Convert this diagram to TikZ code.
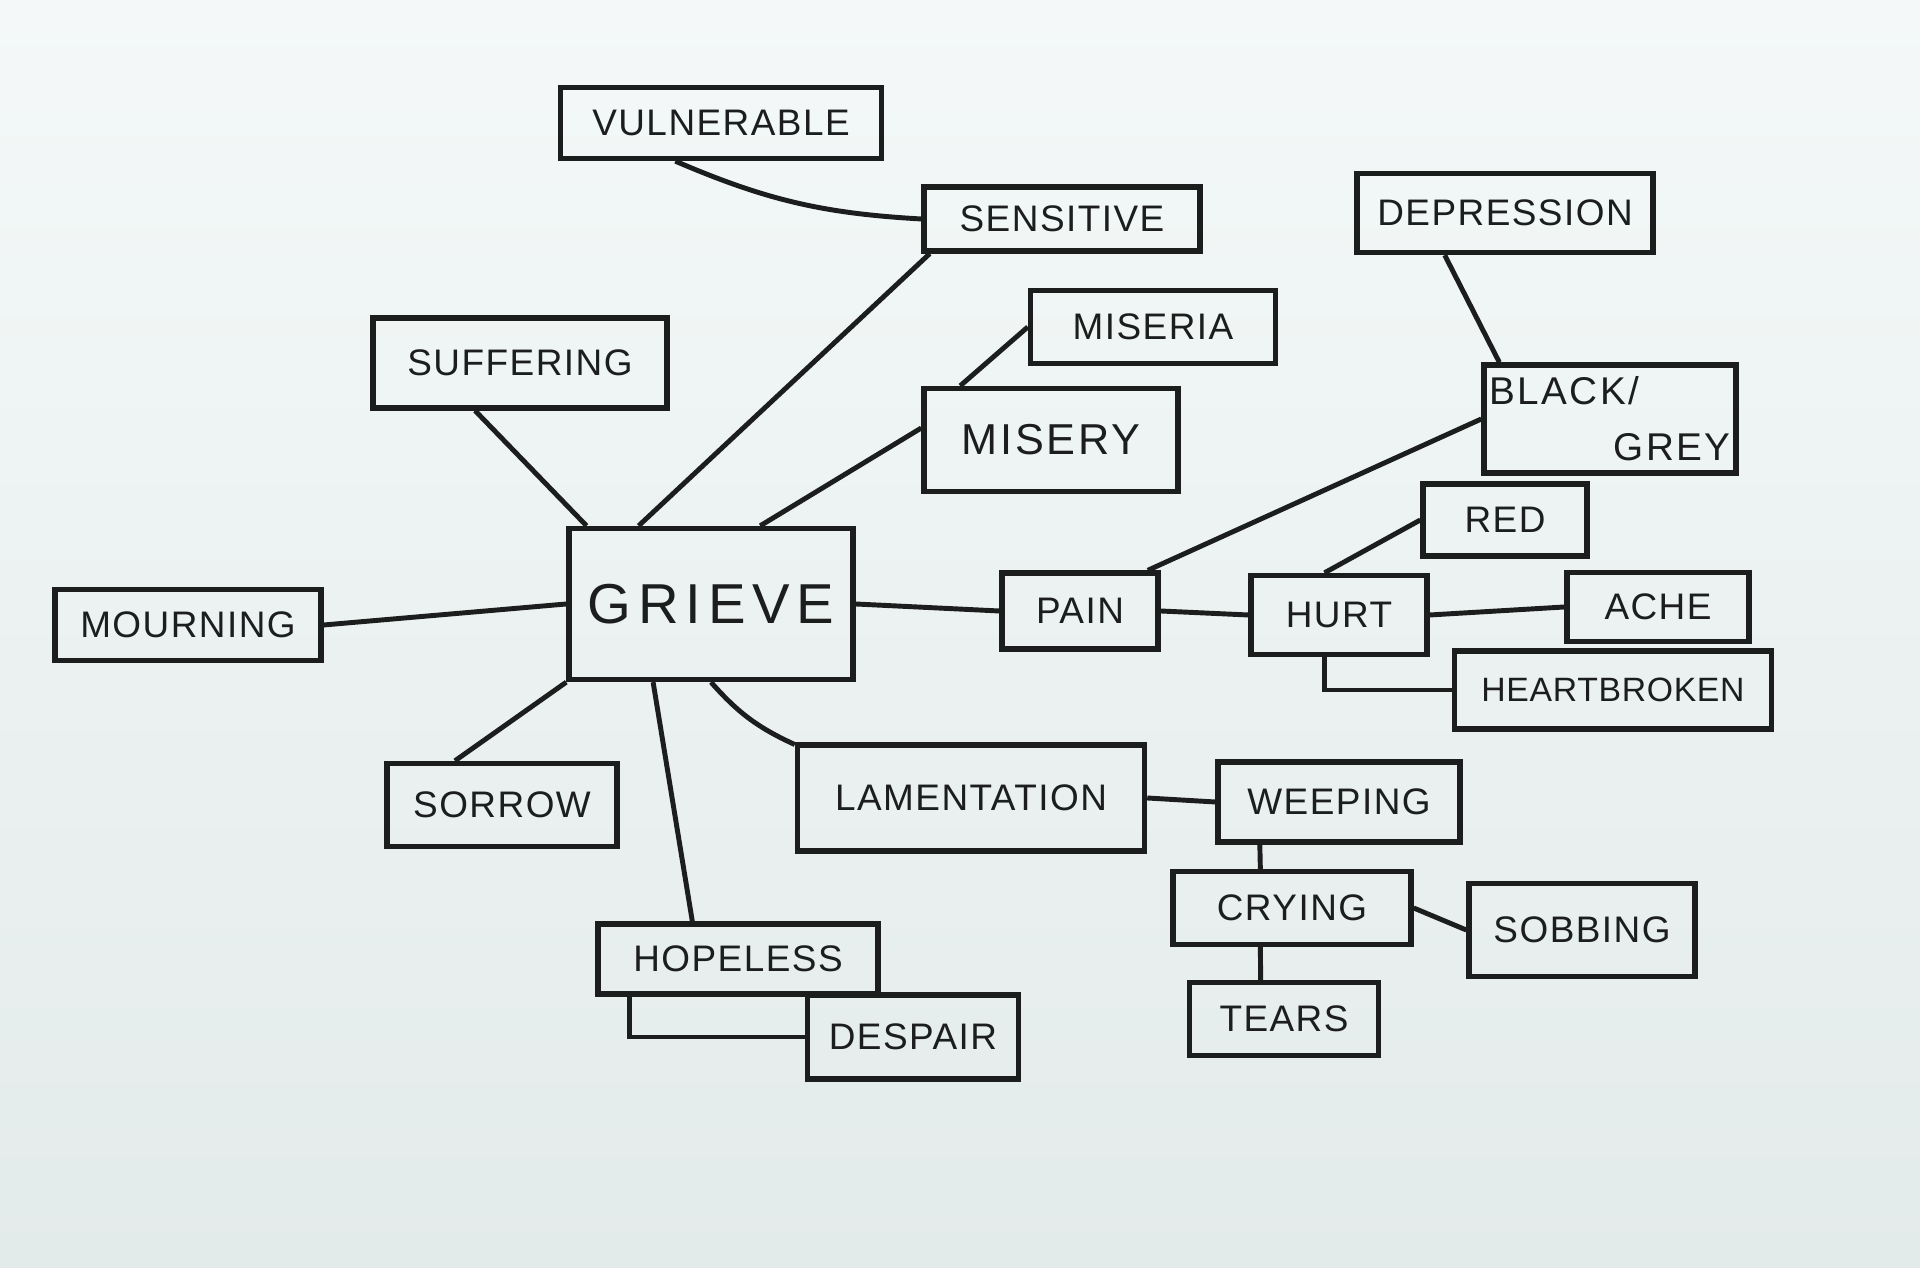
\documentclass[tikz,border=0pt]{standalone}
\usepackage{fontspec}
\setmainfont{Liberation Sans}
\usetikzlibrary{calc}
\definecolor{boardtop}{RGB}{244,248,248}
\definecolor{boardbot}{RGB}{227,235,234}
\definecolor{ink}{RGB}{28,30,30}
\begin{document}
\begin{tikzpicture}[x=0.01cm,y=-0.01cm,
  box/.style={draw=ink, line width=1.5pt, inner sep=0pt, text=ink,
    font=\fontsize{10.5}{13}\selectfont\addfontfeature{LetterSpace=4}},
  sz/.style 2 args={minimum width=#1cm, minimum height=#2cm},
  small/.style={font=\fontsize{9.6}{12}\selectfont\addfontfeature{LetterSpace=2}},
  big/.style={font=\fontsize{12.3}{17}\selectfont\addfontfeature{LetterSpace=6}},
  huge/.style={font=\fontsize{16}{20}\selectfont\addfontfeature{LetterSpace=12}},
  link/.style={draw=ink, line width=1.4pt}]
\shade[top color=boardtop, bottom color=boardbot] (0,0) rectangle (1920,1268);
\useasboundingbox (0,0) rectangle (1920,1268);

% nodes
\node[box, sz={3.21}{0.71}] (vul) at (721,123) {VULNERABLE};
\node[box, sz={2.76}{0.64}] (sens) at (1062,219) {SENSITIVE};
\node[box, sz={2.45}{0.73}] (miseria) at (1153,327) {MISERIA};
\node[box, big, sz={2.54}{1.03}] (misery) at (1051,440) {MISERY};
\node[box, sz={2.94}{0.90}] (suff) at (520,363) {SUFFERING};
\node[box, sz={2.96}{0.79}] (depr) at (1505,213) {DEPRESSION};
\node[box, font=\fontsize{11}{16}\selectfont\addfontfeature{LetterSpace=6}, sz={2.52}{1.08}, align=left] (black) at (1610,419) {BLACK/\\\hspace*{3.2em}GREY};
\node[box, sz={1.64}{0.72}] (red) at (1505,520) {RED};
\node[box, huge, sz={2.84}{1.51}] (grieve) at (711,604) {GRIEVE};
\node[box, sz={2.66}{0.71}] (mourn) at (188,625) {MOURNING};
\node[box, sz={1.56}{0.76}] (pain) at (1080,611) {PAIN};
\node[box, sz={1.76}{0.79}] (hurt) at (1339,615) {HURT};
\node[box, sz={1.82}{0.69}] (ache) at (1658,607) {ACHE};
\node[box, small, sz={3.17}{0.78}] (heart) at (1613,690) {HEARTBROKEN};
\node[box, sz={2.30}{0.83}] (sorrow) at (502,805) {SORROW};
\node[box, sz={3.47}{1.06}] (lament) at (971,798) {LAMENTATION};
\node[box, sz={2.42}{0.80}] (weep) at (1339,802) {WEEPING};
\node[box, sz={2.38}{0.73}] (cry) at (1292,908) {CRYING};
\node[box, sz={2.26}{0.93}] (sob) at (1582,930) {SOBBING};
\node[box, sz={1.89}{0.73}] (tears) at (1284,1019) {TEARS};
\node[box, sz={2.80}{0.70}] (hope) at (738,959) {HOPELESS};
\node[box, sz={2.11}{0.84}] (desp) at (913,1037) {DESPAIR};

% connectors
\draw[link] ($(vul.south west)!0.36!(vul.south east)$) to[bend right=10] (sens.west);
\draw[link] ($(sens.south west)!0.03!(sens.south east)$) -- ($(grieve.north west)!0.25!(grieve.north east)$);
\draw[link] (miseria.west) -- ($(misery.north west)!0.15!(misery.north east)$);
\draw[link] ($(misery.west)+(0,-12)$) -- ($(grieve.north west)!0.67!(grieve.north east)$);
\draw[link] ($(suff.south west)!0.35!(suff.south east)$) -- ($(grieve.north west)!0.07!(grieve.north east)$);
\draw[link] ($(depr.south west)!0.3!(depr.south east)$) -- ($(black.north west)!0.07!(black.north east)$);
\draw[link] (black.west) -- ($(pain.north west)!0.92!(pain.north east)$);
\draw[link] (red.west) -- ($(hurt.north west)!0.42!(hurt.north east)$);
\draw[link] (grieve.east) -- (pain.west);
\draw[link] (mourn.east) -- (grieve.west);
\draw[link] (pain.east) -- (hurt.west);
\draw[link] (hurt.east) -- (ache.west);
\draw[link] ($(hurt.south west)!0.42!(hurt.south east)$) |- (heart.west);
\draw[link] ($(sorrow.north west)!0.3!(sorrow.north east)$) -- (grieve.south west);
\draw[link] ($(grieve.south west)!0.3!(grieve.south east)$) -- ($(hope.north west)!0.34!(hope.north east)$);
\draw[link] ($(grieve.south west)!0.5!(grieve.south east)$) to[bend right=12] ($(lament.north west)!0.02!(lament.south west)$);
\draw[link] (lament.east) -- (weep.west);
\draw[link] ($(weep.south west)!0.18!(weep.south east)$) -- ($(cry.north west)!0.37!(cry.north east)$);
\draw[link] (cry.east) -- (sob.west);
\draw[link] ($(cry.south west)!0.37!(cry.south east)$) -- ($(tears.north west)!0.38!(tears.north east)$);
\draw[link] ($(hope.south west)!0.12!(hope.south east)$) |- (desp.west);
\end{tikzpicture}
\end{document}
